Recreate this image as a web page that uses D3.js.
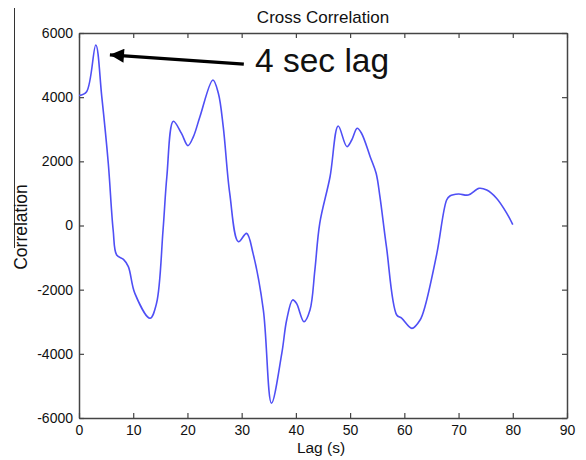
<!DOCTYPE html>
<html lang="en">
<head>
    <meta charset="UTF-8">
    <title>Cross Correlation</title>
    <script src="https://d3js.org/d3.v7.min.js"></script>
    <style>
        body { margin: 0; background: #fff; }
        text { font-family: "Liberation Sans", Arial, sans-serif; fill: #111; }
    </style>
</head>
<body>
    <div id="chart"></div>

    <script>
        // lag in seconds and correlation
        const lags = [0, 1.4, 3.1, 4.2, 5.4, 6.3, 6.95, 8.2, 9.1, 10.3, 13.1, 14.3, 15.5, 16.2, 17.4,
            18.9, 20.1, 21.1, 22.3, 24.7, 25.7, 26.6, 27.8, 29.4, 30.9, 32.1, 34.0, 35.5, 37.4, 38.3,
            39.4, 40.1, 41.5, 42.6, 43.5, 44.4, 46.3, 47.8, 49.4, 50.3, 51.3, 52.1, 53.7, 54.8, 55.5,
            56.7, 58.6, 59.5, 61.4, 62.9, 63.8, 66.0, 67.8, 68.4, 70.0, 71.8, 73.8, 75.2, 77.0, 78.9, 80.0];
        const corr = [4050, 4170, 5626, 4015, 1940, -140, -920, -1055, -1280, -2115, -2890, -2425, -140, 1520, 3250,
            2870, 2490, 2770, 3390, 4535, 4120, 3080, 1000, -505, -245, -870, -2635, -5540, -3985, -2945,
            -2320, -2425, -3000, -2635, -1390, 70, 1520, 3100, 2460, 2665, 3030, 2875, 2145, 1630, 900,
            -660, -2790, -2890, -3205, -2945, -2530, -870, 795, 920, 980, 950, 1160, 1105, 850, 380, 30];

        const xTicks = [0, 10, 20, 30, 40, 50, 60, 70, 80, 90];
        const yTicks = [-6000, -4000, -2000, 0, 2000, 4000, 6000];

        // annotation: arrow from text to the peak
        const arrowFrom = [30.4, 5030];
        const arrowTo = [5.7, 5320];
        const noteText = "4 sec lag";

        const width = 586, height = 460;
        const mLeft = 79, mRight = 567, mTop = 33, mBottom = 418;

        const svg = d3.select("#chart").append("svg")
            .attr("width", width)
            .attr("height", height);

        const x = d3.scaleLinear().domain([0, 90]).range([mLeft, mRight]);
        const y = d3.scaleLinear().domain([-6000, 6000]).range([mBottom, mTop]);

        // stray crop edge at the far left of the figure
        svg.append("line")
            .attr("x1", 14.5).attr("x2", 14.5)
            .attr("y1", 8).attr("y2", 248)
            .attr("stroke", "#333").attr("stroke-width", 1);

        const fmt = d => String(d);

        const axes = [
            { gen: d3.axisBottom(x).tickValues(xTicks).tickFormat(fmt).tickPadding(7), t: `translate(0,${mBottom})` },
            { gen: d3.axisTop(x).tickValues(xTicks).tickFormat(""), t: `translate(0,${mTop})` },
            { gen: d3.axisLeft(y).tickValues(yTicks).tickFormat(fmt).tickPadding(6), t: `translate(${mLeft},0)` },
            { gen: d3.axisRight(y).tickValues(yTicks).tickFormat(""), t: `translate(${mRight},0)` }
        ];

        axes.forEach(a => {
            const g = svg.append("g")
                .attr("transform", a.t)
                .call(a.gen.tickSizeInner(-5).tickSizeOuter(0));
            g.select(".domain").attr("stroke", "#444").attr("stroke-width", 1.5);
            g.selectAll(".tick line").attr("stroke", "#444").attr("stroke-width", 1.2);
            g.selectAll(".tick text")
                .attr("font-size", 14)
                .attr("fill", "#111")
                .style("font-family", "'Liberation Sans', Arial, sans-serif");
        });

        const line = d3.line()
            .x((d, i) => x(lags[i]))
            .y(d => y(d))
            .curve(d3.curveCatmullRom.alpha(0.5));

        svg.append("path")
            .datum(corr)
            .attr("fill", "none")
            .attr("stroke", "#4f4ff5")
            .attr("stroke-width", 1.6)
            .attr("d", line);

        // arrow
        svg.append("defs").append("marker")
            .attr("id", "head")
            .attr("viewBox", "0 0 10 10")
            .attr("refX", 10).attr("refY", 5)
            .attr("markerWidth", 5).attr("markerHeight", 4.4)
            .attr("markerUnits", "strokeWidth")
            .attr("orient", "auto")
            .append("path")
            .attr("d", "M0,0 L10,5 L0,10 Z")
            .attr("fill", "#000");

        svg.append("line")
            .attr("x1", x(arrowFrom[0])).attr("y1", y(arrowFrom[1]))
            .attr("x2", x(arrowTo[0])).attr("y2", y(arrowTo[1]))
            .attr("stroke", "#000")
            .attr("stroke-width", 3.2)
            .attr("marker-end", "url(#head)");

        svg.append("text")
            .attr("x", 255)
            .attr("y", 72)
            .attr("font-size", 33.5)
            .text(noteText);

        svg.append("text")
            .attr("x", (mLeft + mRight) / 2)
            .attr("y", 23)
            .attr("text-anchor", "middle")
            .attr("font-size", 17)
            .text("Cross Correlation");

        svg.append("text")
            .attr("x", (mLeft + mRight) / 2 - 2)
            .attr("y", 453)
            .attr("text-anchor", "middle")
            .attr("font-size", 15.5)
            .text("Lag (s)");

        svg.append("text")
            .attr("transform", `translate(27,227) rotate(-90)`)
            .attr("text-anchor", "middle")
            .attr("font-size", 17.5)
            .text("Correlation");
    </script>
</body>
</html>
